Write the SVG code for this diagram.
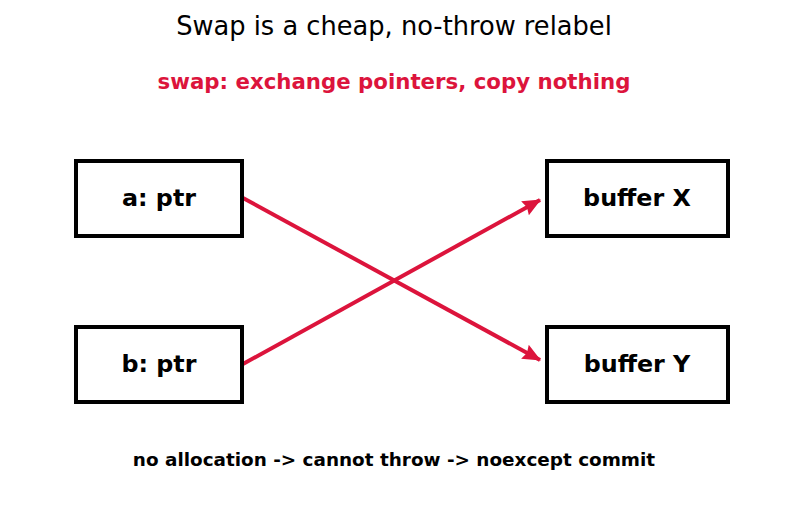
<svg xmlns="http://www.w3.org/2000/svg" width="787" height="512" viewBox="0 0 787 512">
<style>
text{font-family:"DejaVu Sans",sans-serif;text-anchor:middle}
.title{font-size:25.7px;fill:#000}
.sub{font-size:21.3px;font-weight:bold;fill:#DC143C}
.box{fill:#fff;stroke:#000;stroke-width:4}
.lbl{font-size:23.8px;font-weight:bold;fill:#000}
.note{font-size:18.4px;font-weight:bold;fill:#000}
.conn{stroke:#DC143C;stroke-width:4;fill:none;marker-end:url(#ah)}
</style>
<defs>
<marker id="ah" viewBox="0 0 16 14" refX="15" refY="7" markerWidth="4.6" markerHeight="4" orient="auto" markerUnits="strokeWidth">
<path d="M0,0 L16,7 L0,14 L2,7 Z" fill="#DC143C"/>
</marker>
</defs>
<rect width="787" height="512" fill="#fff"/>
<text class="title" x="394" y="35">Swap is a cheap, no-throw relabel</text>
<text class="sub" x="394" y="89">swap: exchange pointers, copy nothing</text>
<g id="connectors">
<line class="conn" x1="243" y1="198" x2="540" y2="360"/>
<line class="conn" x1="243" y1="364" x2="540" y2="200"/>
</g>
<g id="a"><rect class="box" x="76" y="161" width="166" height="75"/><text class="lbl" x="159" y="206">a: ptr</text></g>
<g id="b"><rect class="box" x="76" y="327" width="166" height="75"/><text class="lbl" x="159" y="372">b: ptr</text></g>
<g id="bufX"><rect class="box" x="547" y="161" width="181" height="75"/><text class="lbl" x="637" y="206">buffer X</text></g>
<g id="bufY"><rect class="box" x="547" y="327" width="181" height="75"/><text class="lbl" x="637" y="372">buffer Y</text></g>
<text class="note" x="394" y="466">no allocation -&gt; cannot throw -&gt; noexcept commit</text>
</svg>
